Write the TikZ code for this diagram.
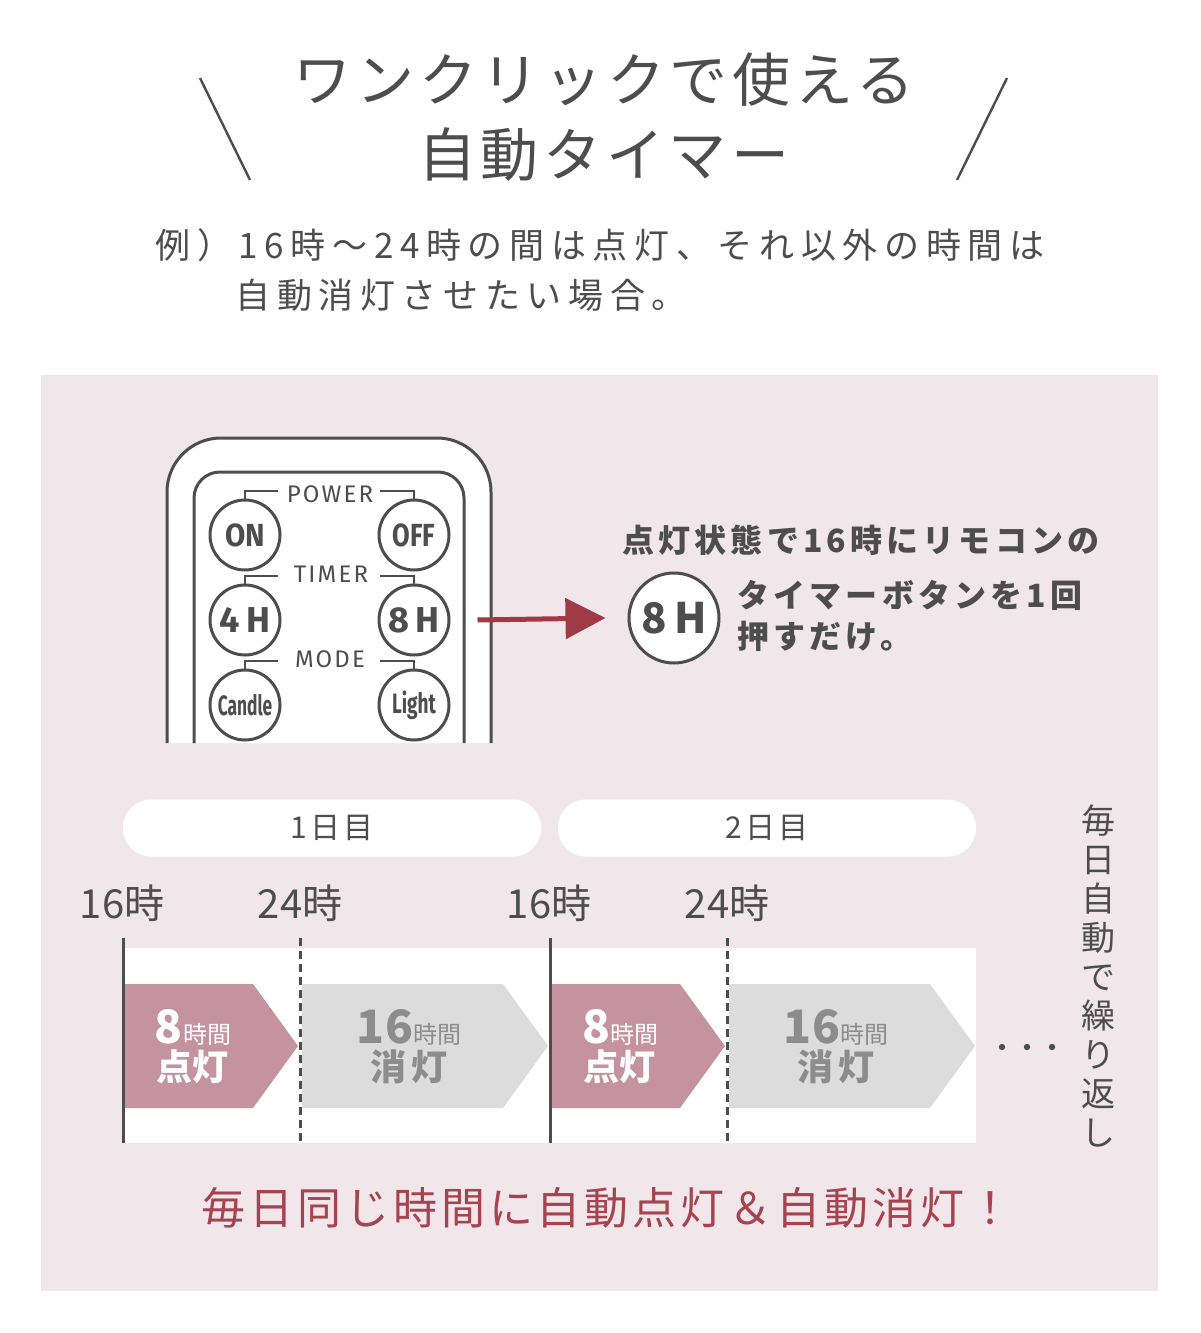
\documentclass[tikz,border=0pt]{standalone}
\usepackage{fontspec}
\usetikzlibrary{arrows.meta}
\setmainfont{Noto Sans CJK JP}
\newfontfamily\titlefont[LetterSpace=8]{Noto Sans CJK JP}
\newfontfamily\subfont[LetterSpace=19]{Noto Sans CJK JP}
\newfontfamily\notefont[LetterSpace=13]{Noto Sans CJK JP}
\newfontfamily\endfont[LetterSpace=9]{Noto Sans CJK JP}
\newfontfamily\dayfont[LetterSpace=12]{Noto Sans CJK JP}
\newfontfamily\remfont[LetterSpace=9]{Fira Sans}
\newfontfamily\keyfont{Fira Sans}
\definecolor{panel}{HTML}{F1E7EB}
\definecolor{ink}{HTML}{4D4D4D}
\definecolor{onpink}{HTML}{C4939F}
\definecolor{offgray}{HTML}{DCDCDC}
\definecolor{offtext}{HTML}{8C8C8C}
\definecolor{wine}{HTML}{9E3B47}
\definecolor{endred}{HTML}{A5434F}
\newcommand{\bignum}{\fontsize{23}{23}\selectfont\bfseries}
\newcommand{\smallunit}{\fontsize{12}{12}\selectfont\mdseries}
\tikzset{
  btn/.style={circle,draw=ink,line width=1.5pt,fill=white,minimum size=35pt,inner sep=0pt,text=ink,font=\keyfont\fontsize{16}{16}\selectfont\bfseries},
  remlabel/.style={text=ink,inner sep=1pt,font=\remfont\fontsize{12}{12}\selectfont},
  pill/.style={fill=white,rounded corners=14pt,minimum width=209pt,minimum height=28.5pt,text=ink,font=\dayfont\fontsize{15}{15}\selectfont},
  hour/.style={text=ink,font=\fontsize{20}{20}\selectfont},
  bar/.style={ink,line width=1.5pt},
  dashbar/.style={ink,line width=1.5pt,dash pattern=on 4pt off 2.5pt},
  chevnum/.style={inner sep=0pt,anchor=base},
  chevstate/.style={inner sep=0pt,font=\fontsize{18}{18}\selectfont\bfseries}
}
\begin{document}
\begin{tikzpicture}[x=0.5pt,y=-0.5pt]
\useasboundingbox (0,0) rectangle (1200,1333);
\fill[white] (0,0) rectangle (1200,1333);
\draw[ink,line width=1.2pt] (200,78) -- (250,180);
\draw[ink,line width=1.2pt] (1007,78) -- (957,180);
\node[text=ink,font=\titlefont\fontsize{29}{29}\selectfont] (title1) at (604,80) {ワンクリックで使える};
\node[text=ink,font=\titlefont\fontsize{29}{29}\selectfont] (title2) at (604,155) {自動タイマー};
\node[anchor=west,text=ink,font=\subfont\fontsize{17.5}{17.5}\selectfont,inner sep=0pt] (sub1) at (155,245) {例）16時～24時の間は点灯、それ以外の時間は};
\node[anchor=west,text=ink,font=\subfont\fontsize{17.5}{17.5}\selectfont,inner sep=0pt] (sub2) at (235,295) {自動消灯させたい場合。};
\fill[panel] (41,375) rectangle (1158,1291);
% remote
\filldraw[fill=white,draw=ink,line width=1.5pt,rounded corners=27pt] (167,743) -- (167,438) -- (491,438) -- (491,743);
\draw[ink,line width=1.5pt,rounded corners=13pt] (194,743) -- (194,472) -- (464,472) -- (464,743);
\node[btn] (on) at (245,535) {\scalebox{0.92}[1]{ON}};
\node[btn] (off) at (414,535) {\scalebox{0.8}[1]{OFF}};
\node[btn,font=\keyfont\fontsize{18}{18}\selectfont\bfseries] (fourh) at (245,620) {4\,H};
\node[btn,font=\keyfont\fontsize{18}{18}\selectfont\bfseries] (eighth) at (414,620) {8\,H};
\node[btn] (candle) at (245,705) {\fontsize{14}{14}\selectfont\mdseries\scalebox{0.62}[1]{\bfseries Candle}};
\node[btn] (light) at (414,705) {\fontsize{14}{14}\selectfont\scalebox{0.68}[1]{Light}};
\node[remlabel] (power) at (330,494) {POWER};
\node[remlabel] (timer) at (331,574) {TIMER};
\node[remlabel] (mode) at (330,659) {MODE};
\foreach \b/\y in {on/491,fourh/576,candle/661}
  \draw[ink,line width=1.2pt] (\b.north) |- (278,\y);
\foreach \b/\y in {off/491,eighth/576,light/661}
  \draw[ink,line width=1.2pt] (\b.north) |- (380,\y);
% one click
\node[circle,draw=ink,line width=1.5pt,fill=white,minimum size=45pt,inner sep=0pt,text=ink,font=\fontsize{21}{21}\selectfont\bfseries] (bigeight) at (674,618) {8\,H};
\draw[wine,line width=2.5pt,-{Triangle[length=20pt,width=20pt]}] ([xshift=13.5pt]eighth.east) -- ([xshift=-11pt]bigeight.west);
\node[anchor=west,inner sep=0pt,text=ink,font=\notefont\fontsize{16}{16}\selectfont\bfseries] (note1) at (622,540) {点灯状態で16時にリモコンの};
\node[anchor=west,inner sep=0pt,text=ink,font=\notefont\fontsize{16}{16}\selectfont\bfseries] (note2) at (737,595) {タイマーボタンを1回};
\node[anchor=west,inner sep=0pt,text=ink,font=\notefont\fontsize{16}{16}\selectfont\bfseries] (note3) at (737,636) {押すだけ。};
% days
\node[pill] (day1) at (332,828) {1日目};
\node[pill] (day2) at (767,828) {2日目};
\fill[white] (123,948) rectangle (976,1143);
\foreach \dx/\tg in {0/a,427/b}{
  \fill[onpink] (123+\dx,984) -- (253+\dx,984) -- (298+\dx,1046) -- (253+\dx,1108) -- (123+\dx,1108) -- cycle;
  \fill[offgray] (302+\dx,984) -- (503+\dx,984) -- (548+\dx,1046) -- (503+\dx,1108) -- (302+\dx,1108) -- cycle;
  \node[chevnum,text=white] (litnum\tg) at (193+\dx,1043) {{\bignum 8}{\smallunit 時間}};
  \node[chevstate,text=white] (lit\tg) at (192+\dx,1067) {点灯};
  \node[chevnum,text=offtext] (darknum\tg) at (409+\dx,1043) {{\bignum 16}{\smallunit 時間}};
  \node[chevstate,text=offtext] (dark\tg) at (409+\dx,1067) {消\,灯};
  \draw[bar] (123+\dx,938) -- (123+\dx,1143);
  \draw[dashbar] (300+\dx,938) -- (300+\dx,1143);
  \node[hour] (start\tg) at (122+\dx,903) {16時};
  \node[hour] (end\tg) at (300+\dx,903) {24時};
}
\foreach \x in {1002,1027,1052}
  \fill[ink] (\x,1047) circle (1.6pt);
\node[text=ink,align=center,inner sep=0pt,font=\fontsize{17}{19.5}\selectfont] (repeat) at (1098,976) {毎\\日\\自\\動\\で\\繰\\り\\返\\し};
\node[text=endred,font=\endfont\fontsize{22}{22}\selectfont] (closing) at (607,1208) {毎日同じ時間に自動点灯＆自動消灯！};
\end{tikzpicture}
\end{document}
